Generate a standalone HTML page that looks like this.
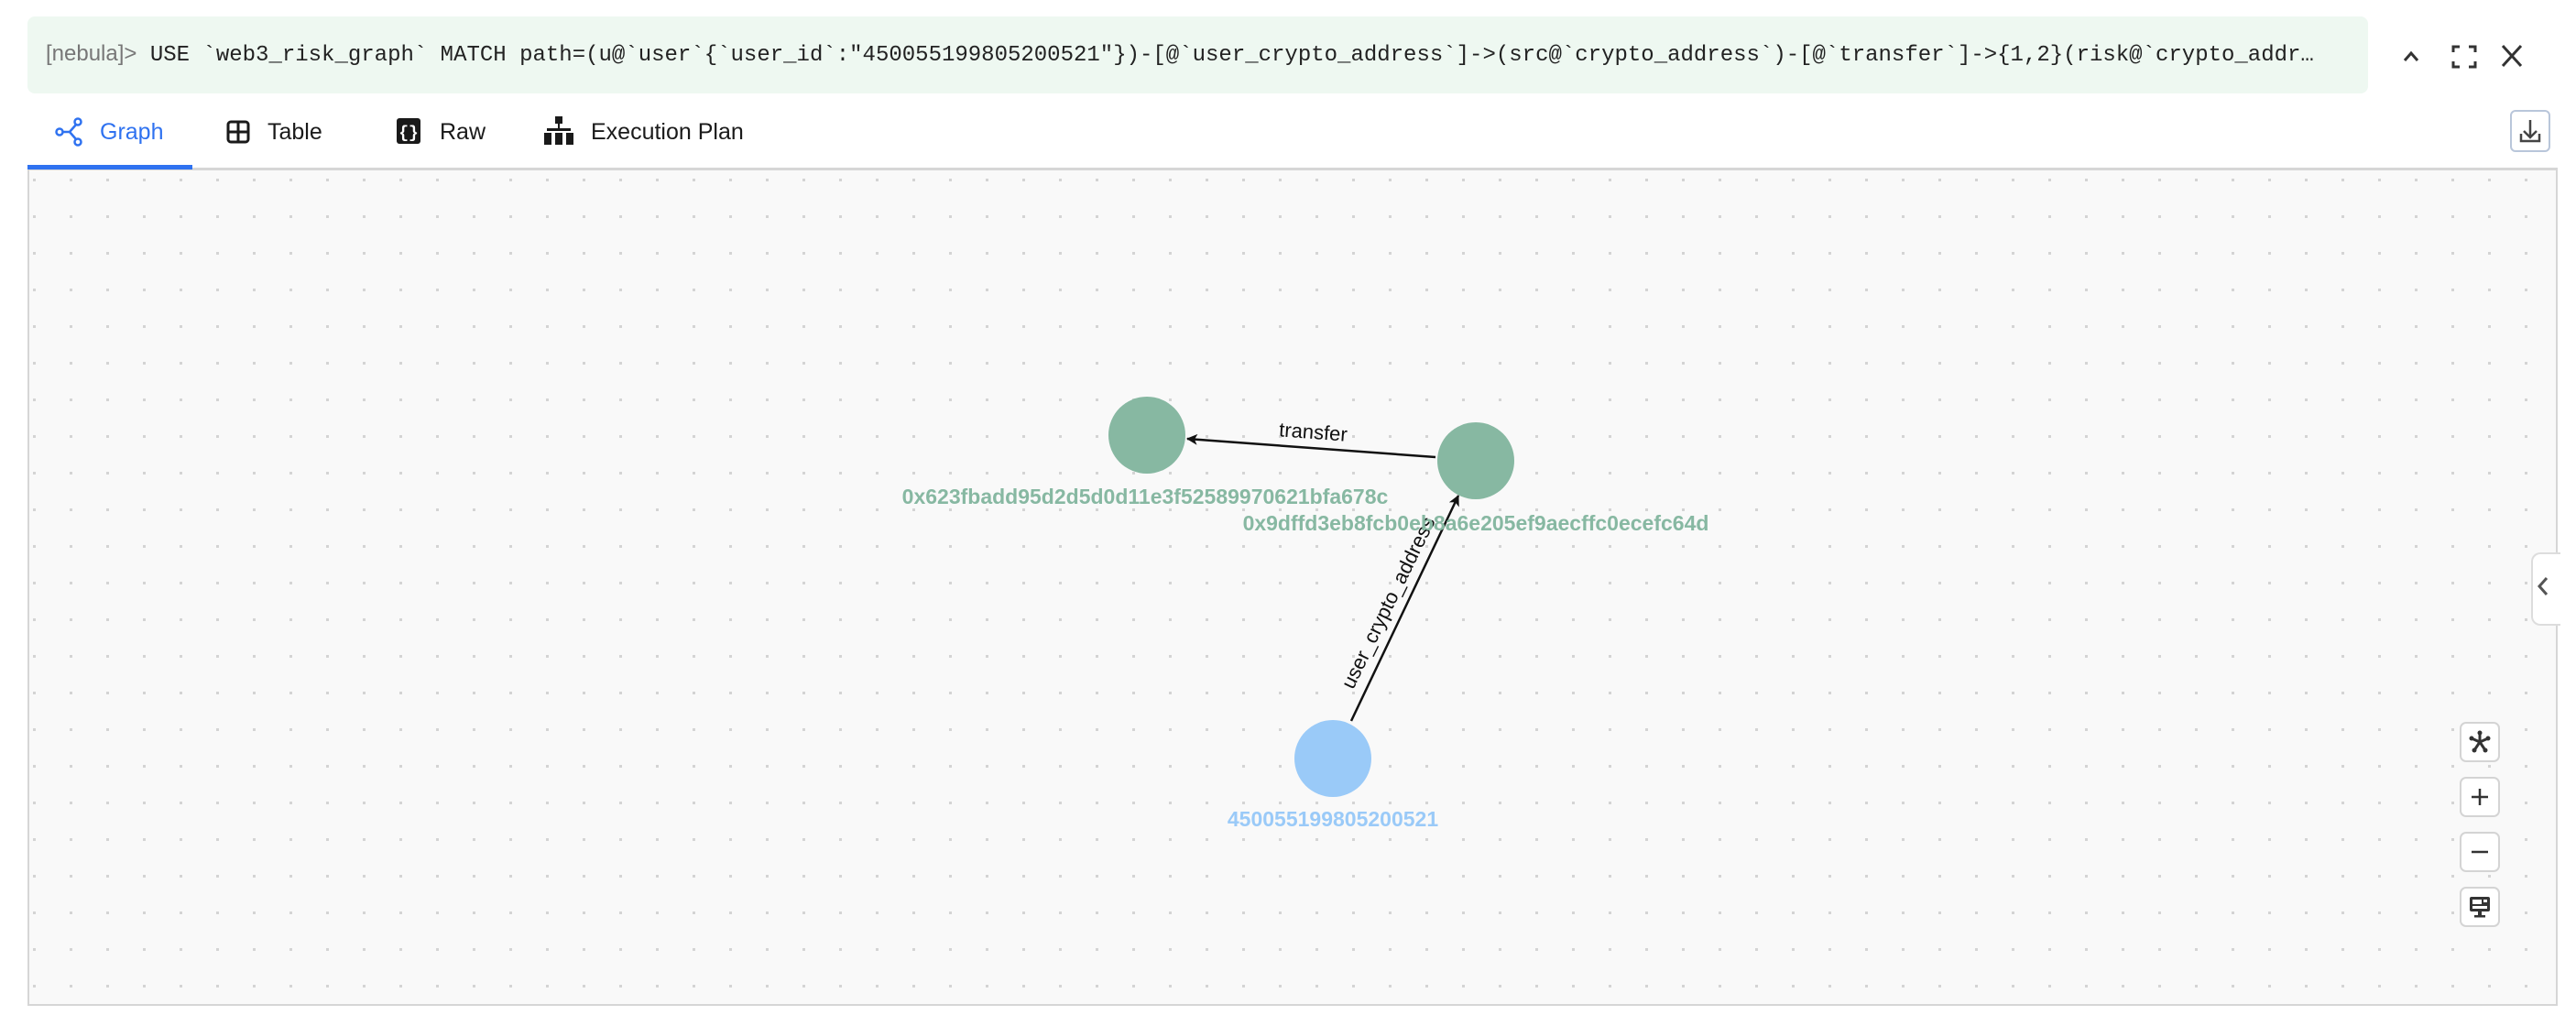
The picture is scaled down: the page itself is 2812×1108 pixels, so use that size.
<!DOCTYPE html>
<html><head><meta charset="utf-8"><style>
html,body{margin:0;padding:0;background:#fff;width:2812px;height:1108px;overflow:hidden;font-family:"Liberation Sans",sans-serif}
.q{position:absolute;left:30px;top:18px;width:2555px;height:84px;background:#eef8f1;border-radius:8px}
.qt{position:absolute;left:20px;top:27px;font-family:"Liberation Mono",monospace;font-size:24px;color:#222;white-space:nowrap}
.qt span{font-family:"Liberation Sans",sans-serif;color:#777}
.tab{position:absolute;top:130px;font-size:25px;color:#1a1a1a}
.canvas{position:absolute;left:30px;top:183px;width:2758px;height:910px;border:2px solid #d6d6d6;border-top:3px solid #d6d6d6;background:#f9f9f9;overflow:hidden}
.btn{position:absolute;left:2685px;width:44px;height:44px;border:2px solid #d4d4d4;border-radius:7px;background:#fff;box-sizing:border-box}
</style></head><body>
<div class="q"><div class="qt"><span>[nebula]&gt;</span> USE `web3_risk_graph` MATCH path=(u@`user`{`user_id`:"450055199805200521"})-[@`user_crypto_address`]-&gt;(src@`crypto_address`)-[@`transfer`]-&gt;{1,2}(risk@`crypto_addr…</div></div>
<svg style="position:absolute;left:2600px;top:40px" width="200" height="40">
<path d="M25 26 L32 18 L39 26" stroke="#333" stroke-width="3" fill="none"/>
<path d="M78 17v-6h7 M95 11h7v6 M102 27v6h-7 M85 33h-7v-6" stroke="#333" stroke-width="3" fill="none"/>
<path d="M132 10 L152 32 M152 10 L132 32" stroke="#333" stroke-width="3"/>
</svg>
<div style="position:absolute;left:2740px;top:120px;width:44px;height:46px;border:2px solid #b9c6da;border-radius:6px;box-sizing:border-box"></div>
<svg style="position:absolute;left:2740px;top:120px" width="44" height="46"><path d="M22 11v19 M15 23l7 7 7-7 M12 26v8h20v-8" stroke="#444" stroke-width="2.5" fill="none"/></svg>

<svg style="position:absolute;left:60px;top:128px" width="32" height="32"><g stroke="#2f72f0" stroke-width="2.5" fill="none"><circle cx="5" cy="16" r="3.5"/><circle cx="25" cy="5" r="3.5"/><circle cx="25" cy="27" r="3.5"/><path d="M9 16h7 M16 16l7-8 M16 16l7 8"/></g></svg>
<div class="tab" style="left:109px;color:#2f72f0">Graph</div>
<svg style="position:absolute;left:246px;top:130px" width="28" height="28"><rect x="3" y="3" width="22" height="22" rx="3" fill="none" stroke="#1a1a1a" stroke-width="3"/><path d="M14 3v22 M3 14h22" stroke="#1a1a1a" stroke-width="3"/></svg>
<div class="tab" style="left:292px">Table</div>
<svg style="position:absolute;left:432px;top:128px" width="28" height="30"><rect x="1" y="1" width="26" height="28" rx="3" fill="#1a1a1a"/><text x="14" y="22" font-size="18" font-weight="bold" fill="#fff" text-anchor="middle" font-family="Liberation Mono">{}</text></svg>
<div class="tab" style="left:480px">Raw</div>
<svg style="position:absolute;left:594px;top:127px" width="32" height="32"><g fill="#1a1a1a"><rect x="12" y="0" width="8" height="8"/><rect x="15" y="8" width="2" height="6"/><rect x="3" y="13" width="26" height="3"/><rect x="0" y="18" width="8" height="13"/><rect x="12" y="18" width="8" height="13"/><rect x="24" y="18" width="8" height="13"/></g></svg>
<div class="tab" style="left:645px">Execution Plan</div>
<div style="position:absolute;left:30px;top:180px;width:180px;height:5px;background:#2f72f0;z-index:2"></div>

<div class="canvas">
<svg width="2758" height="910" style="position:absolute;left:0;top:0">
<defs><pattern id="d" x="4" y="9" width="40" height="40" patternUnits="userSpaceOnUse"><rect x="0" y="0" width="3" height="3" fill="#d4d4d4"/></pattern>
<marker id="a" markerWidth="12" markerHeight="12" refX="11" refY="6" orient="auto" markerUnits="userSpaceOnUse"><path d="M0 0 L12 6 L0 12 L3 6z" fill="#111"/></marker></defs>
<rect width="2758" height="910" fill="url(#d)"/>
<g transform="translate(-30,-185)">
<line x1="1565" y1="498" x2="1294" y2="478" stroke="#111" stroke-width="2.5" marker-end="url(#a)"/>
<text x="1431" y="478" font-size="22" fill="#111" text-anchor="middle" transform="rotate(4.2 1431 478)">transfer</text>
<line x1="1473" y1="786" x2="1590" y2="540" stroke="#111" stroke-width="2.5" marker-end="url(#a)"/>
<text x="1520" y="660" font-size="22" fill="#111" text-anchor="middle" transform="rotate(-64 1520 660)">user_crypto_address</text>
<circle cx="1250" cy="474" r="42" fill="#87b8a2"/>
<circle cx="1609" cy="502" r="42" fill="#87b8a2"/>
<circle cx="1453" cy="827" r="42" fill="#9acaf8"/>
<g font-weight="bold" font-size="23" text-anchor="middle">
<text x="1248" y="549" fill="#87b8a2">0x623fbadd95d2d5d0d11e3f52589970621bfa678c</text>
<text x="1609" y="578" fill="#87b8a2">0x9dffd3eb8fcb0eb8a6e205ef9aecffc0ecefc64d</text>
<text x="1453" y="901" fill="#9acaf8">450055199805200521</text>
</g></g>
</svg>
</div>
<div style="position:absolute;left:2763px;top:603px;width:30px;height:76px;background:#fff;border:2px solid #ddd;border-right:none;border-radius:10px 0 0 10px"></div>
<svg style="position:absolute;left:2763px;top:625px" width="26" height="30"><path d="M17 6 L9 15 L17 24" stroke="#555" stroke-width="3" fill="none"/></svg>
<div class="btn" style="top:788px"></div>
<svg style="position:absolute;left:2685px;top:788px" width="44" height="44"><g stroke="#333" stroke-width="3"><path d="M22 12v10 M22 22l-9-4 M22 22l9-4 M22 22l-6 9 M22 22l6 9"/></g><g fill="#333"><circle cx="22" cy="12" r="2.5"/><circle cx="13" cy="18" r="2.5"/><circle cx="31" cy="18" r="2.5"/><circle cx="16" cy="31" r="2.5"/><circle cx="28" cy="31" r="2.5"/></g></svg>
<div class="btn" style="top:848px"></div>
<svg style="position:absolute;left:2685px;top:848px" width="44" height="44"><path d="M22 13v18 M13 22h18" stroke="#333" stroke-width="2.5"/></svg>
<div class="btn" style="top:908px"></div>
<svg style="position:absolute;left:2685px;top:908px" width="44" height="44"><path d="M13 22h18" stroke="#333" stroke-width="2.5"/></svg>
<div class="btn" style="top:968px"></div>
<svg style="position:absolute;left:2685px;top:968px" width="44" height="44"><rect x="11" y="11" width="22" height="16" rx="2" fill="#333"/><rect x="14" y="14" width="10" height="5" fill="#fff"/><rect x="26" y="14" width="4" height="3" fill="#fff"/><rect x="14" y="21" width="16" height="3" fill="#fff"/><rect x="20" y="27" width="4" height="4" fill="#333"/><rect x="16" y="31" width="12" height="2.5" fill="#333"/></svg>
</body></html>
